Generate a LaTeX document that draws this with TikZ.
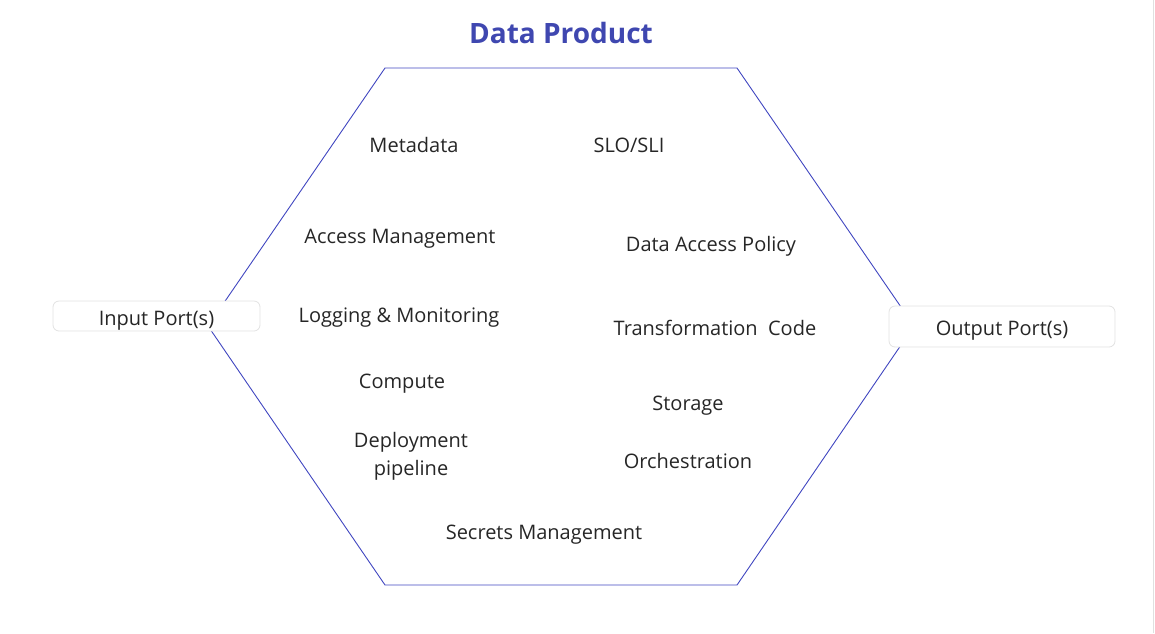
\documentclass[tikz,border=0pt]{standalone}
\usepackage{fontspec}
\setmainfont{Open Sans}
\definecolor{hexblue}{HTML}{4046C0}
\definecolor{titleblue}{HTML}{3F47B0}
\definecolor{boxgray}{HTML}{E2E2E2}
\tikzset{
  item/.style={font=\fontsize{20}{28}\selectfont, text=black!85, align=center, inner sep=0pt},
  port/.style={draw=boxgray, line width=0.8pt, fill=white, rounded corners=6pt, inner ysep=0pt,
    text height=22pt, text depth=4pt, font=\fontsize{20}{24}\selectfont, text=black!85}
}
\begin{document}
\begin{tikzpicture}[x=1pt,y=-1pt]
    \useasboundingbox (0,0) rectangle (1155,633);
    \draw[black!12, line width=1pt] (1153.5,0)--(1153.5,633);
    % the hexagon
    \draw[hexblue, line width=0.9pt] (385,68)--(737,68)--(914,326)--(737,585)--(385,585)--(208,326)--cycle;
    \node[font=\fontsize{28}{32}\selectfont\bfseries, text=titleblue] (title) at (561,33) {Data Product};
    \node[item] (meta) at (414,145) {Metadata};
    \node[item] (slo) at (629,145) {SLO/SLI};
    \node[item] (access) at (400,239) {Access Management};
    \node[item] (policy) at (711,246) {Data Access Policy};
    \node[item] (logging) at (399,318) {Logging \& Monitoring};
    \node[item] (transform) at (715,328) {Transformation\ \ Code};
    \node[item] (compute) at (402,384) {Compute};
    \node[item] (storage) at (688,406) {Storage};
    \node[item] (deploy) at (411,456) {Deployment\\pipeline};
    \node[item] (orch) at (688,461) {Orchestration};
    \node[item] (secrets) at (544,535) {Secrets Management};
    % ports
    \node[port, minimum width=207pt, minimum height=30pt] (input) at (156.5,316) {Input Port(s)};
    \node[port, minimum width=226pt, minimum height=41pt] (output) at (1002,326.5) {Output Port(s)};
\end{tikzpicture}
\end{document}
